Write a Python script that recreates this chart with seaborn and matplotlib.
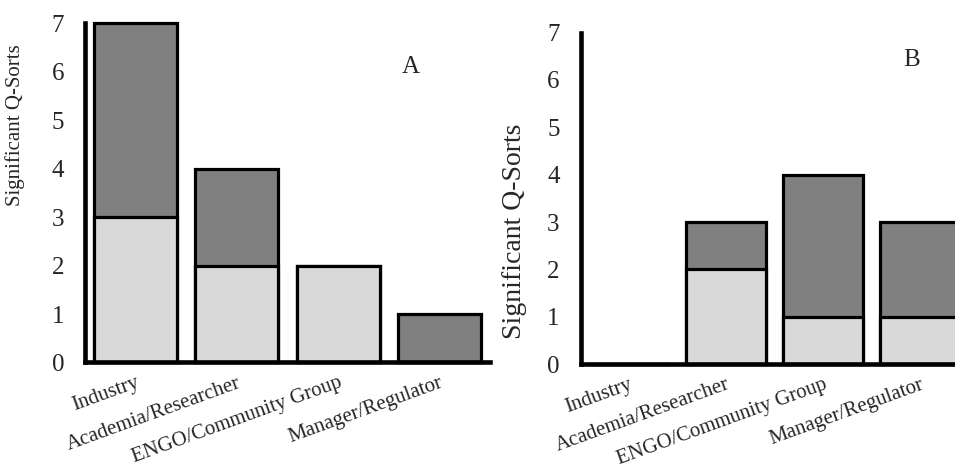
import matplotlib
matplotlib.use("Agg")
import matplotlib.pyplot as plt
import seaborn as sns
import pandas as pd

categories = ["Industry", "Academia/Researcher", "ENGO/Community Group", "Manager/Regulator"]
a_light = [3, 2, 2, 0]
a_dark = [4, 2, 0, 1]
b_light = [0, 2, 1, 1]
b_dark = [0, 1, 3, 2]
y_ticks = [0, 1, 2, 3, 4, 5, 6, 7]
y_label = "Significant Q-Sorts"

LIGHT = "#d9d9d9"
DARK = "#808080"

sns.set_theme(style="white")
plt.rcParams['font.family'] = ['Liberation Serif', 'DejaVu Serif']

fig = plt.figure(figsize=(9.55, 4.72), dpi=100)
axA = fig.add_axes([0.089, 0.232, 0.424, 0.719])
axB = fig.add_axes([0.6079, 0.2288, 0.406, 0.702])


def draw(ax, light, dark, letter, lx, ly, ylab_size, ylab_x, ylab_y):
    df = pd.DataFrame({"cat": categories,
                       "total": [l + d for l, d in zip(light, dark)],
                       "light": light})
    sns.barplot(data=df, x="cat", y="total", order=categories, color=DARK,
                saturation=1, edgecolor="black", linewidth=2.3, width=0.82, ax=ax)
    sns.barplot(data=df, x="cat", y="light", order=categories, color=LIGHT,
                saturation=1, edgecolor="black", linewidth=2.3, width=0.82, ax=ax)
    for p in ax.patches:
        p.set_clip_on(False)
    ax.set_xlim(-0.5, 3.5)
    ax.set_ylim(0, 7)
    ax.set_yticks(y_ticks)
    ax.set_yticklabels([str(t) for t in y_ticks], fontsize=18)
    ax.tick_params(axis="both", length=0)
    ax.tick_params(axis="y", pad=15)
    ax.tick_params(axis="x", pad=8)
    ax.set_xticks(range(len(categories)))
    ax.set_xticklabels(categories, fontsize=15, rotation=20, ha="right",
                       rotation_mode="anchor")
    ax.set_xlabel("")
    ax.set_ylabel(y_label, fontsize=ylab_size)
    ax.yaxis.set_label_coords(ylab_x, ylab_y)
    for s in ["top", "right"]:
        ax.spines[s].set_visible(False)
    for s in ["left", "bottom"]:
        ax.spines[s].set_linewidth(3.3)
        ax.spines[s].set_color("black")
    ax.text(lx, ly, letter, fontsize=18, ha="center", va="center")


draw(axA, a_light, a_dark, "A", 2.72, 6.09, 15, -0.148, 0.70)
draw(axB, b_light, b_dark, "B", 2.92, 6.43, 20, -0.138, 0.40)

fig.savefig("out.png", dpi=100)
